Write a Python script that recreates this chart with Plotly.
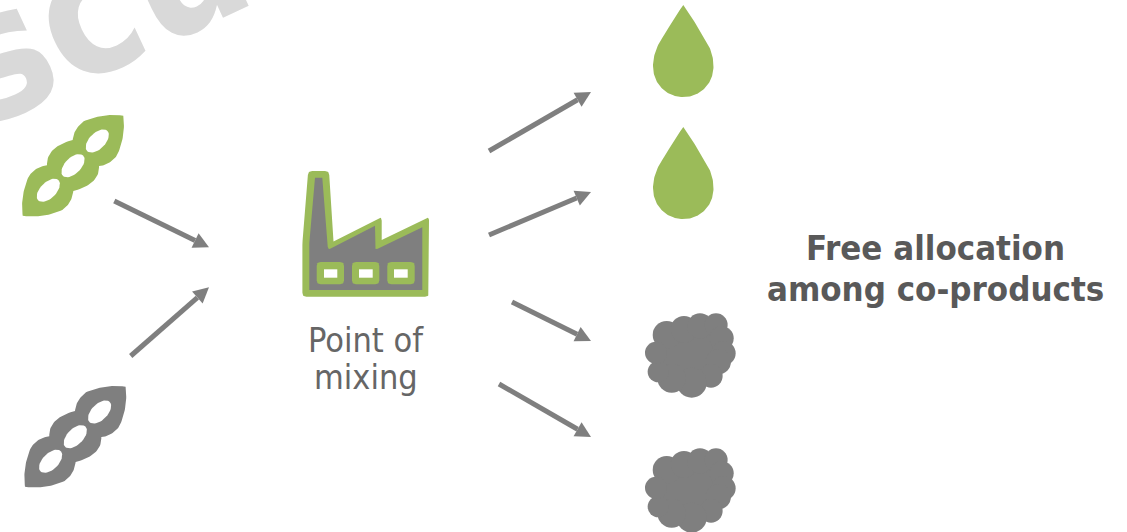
import numpy as np
import plotly.graph_objects as go

GREEN = "#9BBB59"
GREY = "#7F7F7F"
WHITE = "#FFFFFF"

# Pod outline: start point, then (control, end) pairs of quadratic curves
POD_START = (123.3, 115.7)
POD_SEGMENTS = [
    (126, 135, 117.3, 155),
    (110, 165, 99, 166),
    (100, 184, 73.3, 191),
    (72.3, 202.7, 62.3, 210),
    (42.3, 218.7, 22.7, 215.7),
    (20, 196.3, 28.7, 176.3),
    (36, 166.3, 47, 165.3),
    (46, 147.3, 72.7, 140),
    (73.7, 128.7, 83.7, 121.3),
    (103.7, 112.7, 123.3, 115.7),
]
POD_HOLES = [(97.3, 141.0), (73.0, 165.7), (48.3, 190.3)]
POD_COLORS = [GREEN, GREY]
POD_OFFSETS = [(0, 0), (2.3, 271)]

# Drop outline
DROP_START = (683.3, 5)
DROP_SEGMENTS = [
    (692, 17, 701.3, 33.3),
    (713.5, 50, 713.5, 66),
    (713.5, 79, 705, 88),
    (696, 97, 683.3, 97),
    (670.6, 97, 661.6, 88),
    (653, 79, 653, 66),
    (653, 50, 665.3, 33.3),
    (674.6, 17, 683.3, 5),
]
DROP_OFFSETS = [0, 122]

# Cake blob: overlapping circles (x, y, diameter)
BLOB_X = [690, 666.7, 684, 700, 716, 721.7, 723.3, 718.3, 711, 691.7, 671.7, 658.3, 656]
BLOB_Y = [355, 335, 329.3, 326, 325, 338.3, 353.3, 361.7, 376, 382.7, 378.3, 371.7, 352.7]
BLOB_D = [60, 28, 26.7, 25.3, 23.3, 24, 24.7, 25.3, 23.3, 30, 28.7, 21.3, 22]
BLOB_OFFSETS = [0, 135]

# Factory: green outline (x, y, corner radius) and grey interior
FACTORY_OUTER = [
    (308.2, 171, 4), (329, 171, 4), (333.5, 241.5, 0), (381.7, 216.5, 4),
    (381.7, 240, 0), (429, 216.5, 4), (429, 296.7, 4), (302.4, 296.7, 4), (302.4, 243, 2),
]
FACTORY_INNER = [
    (315, 177.7, 0), (322.3, 177.7, 0), (328, 250, 3), (375, 225.7, 0),
    (375, 250, 3), (422.3, 227.3, 0), (422.3, 290, 0), (309.3, 290, 0), (309.3, 243.3, 0),
]
WINDOW_LEFT = [316.7, 352, 387.3]
WINDOW_RIGHT = [344, 379.3, 414.7]
WINDOW_TOP = 262
WINDOW_BOTTOM = 284.3
PANE_LEFT = [324, 359, 394]
PANE_RIGHT = [337.3, 372.7, 407.7]
PANE_TOP = 269.3
PANE_BOTTOM = 277.7

# Arrows: x0, y0, x1, y1
ARROWS = [
    (114.3, 201, 209, 247.3),
    (130.7, 356, 209, 287.3),
    (489, 151, 591, 92),
    (489, 235, 591, 192),
    (512, 302, 591, 341),
    (499, 384, 591, 437),
]


def curve(start, segs, n=24):
    xs, ys = [start[0]], [start[1]]
    p = start
    for cx, cy, x, y in segs:
        t = np.linspace(0, 1, n)[1:]
        xs += list((1 - t) ** 2 * p[0] + 2 * t * (1 - t) * cx + t ** 2 * x)
        ys += list((1 - t) ** 2 * p[1] + 2 * t * (1 - t) * cy + t ** 2 * y)
        p = (x, y)
    return np.array(xs), np.array(ys)


def rounded(points):
    pts = [np.array(p[:2], dtype=float) for p in points]
    xs, ys = [], []
    n = len(pts)
    t = np.linspace(0, 1, 8)
    for i, (x, y, r) in enumerate(points):
        p, a, b = pts[i], pts[i - 1], pts[(i + 1) % n]
        p0 = p + r * (a - p) / np.linalg.norm(a - p)
        p1 = p + r * (b - p) / np.linalg.norm(b - p)
        xs += list((1 - t) ** 2 * p0[0] + 2 * t * (1 - t) * p[0] + t ** 2 * p1[0])
        ys += list((1 - t) ** 2 * p0[1] + 2 * t * (1 - t) * p[1] + t ** 2 * p1[1])
    return xs + xs[:1], ys + ys[:1]


def fill(fig, x, y, color):
    fig.add_trace(go.Scatter(x=list(x), y=list(y), mode="lines", fill="toself", fillcolor=color,
                             line=dict(color=color, width=0), hoverinfo="skip", showlegend=False))


def hole(cx, cy, a=14.3, b=8):
    t = np.linspace(0, 2 * np.pi, 48)
    d = np.sqrt(0.5)
    return cx + a * np.cos(t) * d + b * np.sin(t) * d, cy - a * np.cos(t) * d + b * np.sin(t) * d


fig = go.Figure()

for col, (dx, dy) in zip(POD_COLORS, POD_OFFSETS):
    x, y = curve(POD_START, POD_SEGMENTS)
    fill(fig, x + dx, y + dy, col)
    for hx, hy in POD_HOLES:
        ex, ey = hole(hx + dx, hy + dy)
        fill(fig, ex, ey, WHITE)

for dy in DROP_OFFSETS:
    x, y = curve(DROP_START, DROP_SEGMENTS)
    fill(fig, x, y + dy, GREEN)

for dy in BLOB_OFFSETS:
    fig.add_trace(go.Scatter(x=BLOB_X, y=[v + dy for v in BLOB_Y], mode="markers",
                             marker=dict(color=GREY, size=BLOB_D, opacity=1, line=dict(width=0)),
                             hoverinfo="skip", showlegend=False))

fill(fig, *rounded(FACTORY_OUTER), GREEN)
fill(fig, *rounded(FACTORY_INNER), GREY)
for l, r in zip(WINDOW_LEFT, WINDOW_RIGHT):
    rect = [(l, WINDOW_TOP, 4), (r, WINDOW_TOP, 4), (r, WINDOW_BOTTOM, 4), (l, WINDOW_BOTTOM, 4)]
    fill(fig, *rounded(rect), GREEN)
for l, r in zip(PANE_LEFT, PANE_RIGHT):
    fill(fig, [l, r, r, l, l], [PANE_TOP, PANE_TOP, PANE_BOTTOM, PANE_BOTTOM, PANE_TOP], WHITE)

for x0, y0, x1, y1 in ARROWS:
    L = np.hypot(x1 - x0, y1 - y0)
    ux, uy = (x1 - x0) / L, (y1 - y0) / L
    bx, by = x1 - 15.5 * ux, y1 - 15.5 * uy
    fig.add_trace(go.Scatter(x=[x0, bx], y=[y0, by], mode="lines", line=dict(color=GREY, width=5),
                             hoverinfo="skip", showlegend=False))
    fill(fig, [x1, bx - 8 * uy, bx + 8 * uy, x1], [y1, by + 8 * ux, by - 8 * ux, y1], GREY)

FONT = "DejaVu Sans Condensed"
annotations = [
    dict(x=366, y=340, text="Point of", font=dict(family=FONT, size=34, color="#666666")),
    dict(x=366, y=377, text="mixing", font=dict(family=FONT, size=34, color="#666666")),
    dict(x=935, y=248, text="<b>Free allocation</b>", font=dict(family=FONT, size=34.5, color="#595959")),
    dict(x=935, y=289, text="<b>among co-products</b>", font=dict(family=FONT, size=34.5, color="#595959")),
]
for a in annotations:
    a.update(xref="x", yref="y", showarrow=False, align="center", xanchor="center", yanchor="middle")
annotations.append(dict(x=95 / 1127, y=1 - 8 / 532, xref="paper", yref="paper", showarrow=False,
                        xanchor="center", yanchor="middle", text="<b>scu</b>", textangle=-25,
                        font=dict(family=FONT, size=180, color="#D9D9D9")))

fig.update_layout(
    width=1127, height=532, margin=dict(l=0, r=0, t=0, b=0),
    paper_bgcolor=WHITE, plot_bgcolor=WHITE, showlegend=False, annotations=annotations,
    xaxis=dict(range=[0, 1127], visible=False, fixedrange=True),
    yaxis=dict(range=[532, 0], visible=False, fixedrange=True),
)
fig.write_html("out.html", post_script="document.body.style.margin='0';", config=dict(displayModeBar=False))
